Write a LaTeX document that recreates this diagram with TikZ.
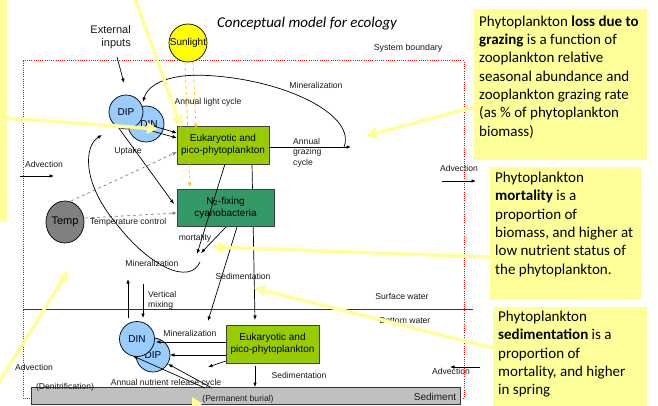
\documentclass[tikz,border=0pt]{standalone}
\usepackage{fontspec}
\setmainfont{Liberation Sans}
\newfontfamily\calib{Carlito}
\usetikzlibrary{arrows.meta,shapes.geometric}
\definecolor{callout}{HTML}{FFFF99}
\definecolor{cirblue}{HTML}{99CCFF}
\definecolor{eukgreen}{HTML}{99CC00}
\definecolor{cyangreen}{HTML}{339966}
\definecolor{sunyel}{HTML}{FFFF00}
\definecolor{sunline}{HTML}{FFC000}
\definecolor{tempgray}{HTML}{808080}
\definecolor{sedgray}{HTML}{C0C0C0}
\definecolor{txt}{HTML}{1A1A1A}
\tikzset{
  lbl/.style={font=\fontsize{8.6}{10.4}\selectfont, inner sep=0, text=txt},
  bigl/.style={font=\fontsize{10}{12}\selectfont, inner sep=0, text=txt},
  arr/.style={-{Latex[length=4.5pt,width=3.6pt]}, line width=0.7pt, draw=black},
  garr/.style={-{Latex[length=4.5pt,width=3.6pt]}, line width=0.7pt, draw=gray, dashed},
  oarr/.style={-{Latex[length=4.5pt,width=3.6pt]}, line width=0.7pt, draw=sunline, dashed},
  yarr/.style={-{Triangle[length=11pt,width=11pt]}, line width=3.5pt, draw=callout},
  procbox/.style={draw=black!75, line width=0.8pt, minimum width=92pt, minimum height=38pt, inner sep=0, align=center, font=\fontsize{10}{12}\selectfont},
  nut/.style={circle, draw=black, line width=0.7pt, fill=cirblue, minimum size=35pt, inner sep=0, font=\fontsize{10}{12}\selectfont},
  callbox/.style={fill=callout, inner sep=0, anchor=north west},
  calltext/.style={font=\calib\fontsize{15}{18.3}\selectfont, align=left, inner sep=0, anchor=north west, text=black},
}
\begin{document}
\begin{tikzpicture}[x=1pt,y=-1pt]
\useasboundingbox (0,0) rectangle (658,406);
\clip (0,0) rectangle (658,406);
\fill[white] (0,0) rectangle (658,406);

% system boundary
\draw[red, line width=1pt, dash pattern=on 1pt off 1.2pt] (23,61) rectangle (464,398);
\node[lbl, font=\fontsize{8.8}{10.4}\selectfont] (sysb) at (408,48) {System boundary};

% title
\node[inner sep=0, font=\calib\itshape\fontsize{15}{18}\selectfont] (title) at (307,24) {Conceptual model for ecology};

% external inputs
\node[inner sep=0, align=right, anchor=east, font=\fontsize{11}{13}\selectfont, text=txt] (ext) at (131,37) {External\\inputs};
\coordinate (extS) at (117,57);
\coordinate (extE) at (124,83);
\draw[arr] (extS) -- (extE);

% sediment box
\node[draw=black!80, line width=0.8pt, fill=sedgray, minimum width=429pt, minimum height=17pt, inner sep=0, anchor=north west] (sed) at (31,387) {};
\node[bigl] (sedl) at (435,397) {Sediment};
\node[lbl] (denit) at (65,387) {(Denitrification)};
\node[lbl] (burial) at (238,399) {(Permanent burial)};

% surface line
\coordinate (surfL) at (23,309);
\coordinate (surfR) at (473,309);
\draw[line width=0.8pt, black!80] (surfL) -- (surfR);
\node[lbl] (surfw) at (402,296) {Surface water};
\node[lbl] (botw) at (405,321) {Bottom water};

% sunlight
\node[circle, draw=black, line width=0.7pt, fill=sunyel, minimum size=38pt, inner sep=0, font=\fontsize{10}{12}\selectfont] (sun) at (188,43) {Sunlight};

% top boxes
\coordinate (sedA) at (252,164);
\coordinate (sedAe) at (255,320);
\draw[arr] (sedA) -- (sedAe);

\node[procbox, fill=eukgreen] (euk) at (223,145) {Eukaryotic and\\pico-phytoplankton};
\node[procbox, fill=cyangreen, minimum width=97pt, minimum height=37pt] (cyano) at (225.5,207.5) {N\textsubscript{2}-fixing\\cyanobacteria};

% sunlight dashed arrows
\coordinate (sun1) at (185,62);
\coordinate (sun1e) at (190,187);
\coordinate (sun2) at (193,62);
\coordinate (sun2e) at (196,129);
\draw[oarr] (sun1) -- (sun1e);
\draw[oarr] (sun2) -- (sun2e);
\node[lbl] (alc) at (208,102) {Annual light cycle};

% nutrient circles (top)
\node[nut, minimum size=36pt] (din) at (146,124) {\hspace{6pt}DIN};
\node[nut, minimum size=34pt] (dip) at (126,112) {DIP};

\coordinate (din1) at (153,126);
\coordinate (din2) at (152,131);
\coordinate (euk1) at (177,133);
\coordinate (euk2) at (177,138);
\draw[arr] (din1) -- (euk1);
\draw[arr] (din2) -- (euk2);

\node[lbl] (upt) at (128,151) {Uptake};
\coordinate (uptS) at (118,127);
\coordinate (uptE) at (174,204);
\draw[arr] (uptS) -- (uptE);

% grazing
\coordinate (graz) at (351,147);
\draw[arr] (euk.east |- graz) -- (graz);
\node[lbl, align=left, anchor=north west, font=\fontsize{8.6}{10.5}\selectfont] (gc) at (293,138) {Annual\\grazing\\cycle};

% big mineralization curve
\coordinate (minS) at (344,147);
\coordinate (dipT) at (143,102);
\draw[arr] (minS) .. controls (356,116) and (290,82) .. (215,76) .. controls (170,72) and (148,84) .. (dipT);
\node[lbl] (min1) at (316,85) {Mineralization};

% advection left
\node[lbl] (adv1) at (44,164) {Advection};
\coordinate (adv1s) at (20,176);
\coordinate (adv1e) at (54,176);
\draw[arr] (adv1s) -- (adv1e);

% temp
\node[ellipse, draw=black, line width=0.7pt, fill=tempgray, minimum width=36pt, minimum height=42pt, inner sep=0, font=\fontsize{11}{13}\selectfont] (temp) at (65,222) {Temp};
\coordinate (t1) at (71,201);
\coordinate (t1e) at (177,152);
\coordinate (t2) at (85,218);
\coordinate (t2e) at (177,213);
\draw[garr] (t1) -- (t1e);
\draw[garr] (t2) -- (t2e);
\node[lbl] (tc) at (128,222) {Temperature control};

% mortality
\coordinate (m1) at (225,164);
\coordinate (m1e) at (197,254);
\coordinate (m2) at (226,227);
\coordinate (m2e) at (201,253);
\draw[arr] (m1) -- (m1e);
\draw[arr] (m2) -- (m2e);
\node[lbl] (mort) at (195,238) {mortality};

% mineralization loop
\coordinate (loopS) at (200,262);
\coordinate (loopE) at (102,135);
\draw[arr] (loopS) .. controls (190,285) and (150,268) .. (115,222) .. controls (82,182) and (84,146) .. (loopE);
\node[lbl] (min2) at (152,263) {Mineralization};

% sedimentation from cyano
\coordinate (sedB) at (237,227);
\coordinate (sedBe) at (208,321);
\draw[arr] (sedB) -- (sedBe);
\node[lbl] (sedt) at (243,276) {Sedimentation};

% advection right
\node[lbl] (adv2) at (459,168) {Advection};
\coordinate (adv2s) at (442,181);
\coordinate (adv2e) at (476,181);
\draw[arr] (adv2s) -- (adv2e);

% vertical mixing
\coordinate (vm1) at (128,318);
\coordinate (vm1e) at (128,279);
\coordinate (vm2) at (143,284);
\coordinate (vm2e) at (143,318);
\draw[arr] (vm1) -- (vm1e);
\draw[arr] (vm2) -- (vm2e);
\node[lbl, align=left, anchor=north west, font=\fontsize{8.6}{10}\selectfont] (vmix) at (148,291) {Vertical\\mixing};

% bottom nutrients
\node[nut, minimum size=34pt] (dipb) at (153,355) {\raisebox{-3pt}{DIP}};
\node[nut, minimum size=35pt] (dinb) at (137,339) {DIN};

\node[procbox, fill=eukgreen, minimum width=93pt] (eukb) at (272.5,344) {Eukaryotic and\\pico-phytoplankton};
\coordinate (bm1) at (156,342);
\coordinate (bm2) at (170,355);
\draw[arr] (eukb.west |- bm1) -- (bm1);
\draw[arr] (eukb.west |- bm2) -- (bm2);
\node[lbl] (min3) at (190,333) {Mineralization};
\coordinate (bx) at (226,361);
\coordinate (bxe) at (208,367);
\draw[arr] (bx) -- (bxe);
\coordinate (bsed) at (255,366);
\coordinate (bsede) at (255,387);
\draw[arr] (bsed) -- (bsede);
\node[lbl] (sedt2) at (299,375) {Sedimentation};

\coordinate (rel1) at (205,388);
\coordinate (rel1e) at (133,356);
\coordinate (rel2) at (212,388);
\coordinate (rel2e) at (168,364);
\draw[arr] (rel1) -- (rel1e);
\draw[arr] (rel2) -- (rel2e);
\node[lbl] (anr) at (166,383) {Annual nutrient release cycle};

% advection bottom
\node[lbl] (adv3) at (34,367) {Advection};
\node[lbl] (adv4) at (451,371) {Advection};
\coordinate (adv4s) at (480,367);
\coordinate (adv4e) at (450,367);
\draw[arr] (adv4s) -- (adv4e);

% callout boxes
\fill[callout] (-1,-1) rectangle (7,222);
\node[callbox, minimum width=173pt, minimum height=151pt] (cgraz) at (474,9) {};
\node[calltext] (tgraz) at (479,15.5) {Phytoplankton \textbf{loss due to}\\\textbf{grazing} is a function of\\zooplankton relative\\seasonal abundance and\\zooplankton grazing rate\\(as \% of phytoplankton\\biomass)};
\node[callbox, minimum width=151pt, minimum height=133pt] (cmort) at (490,167) {};
\node[calltext] (tmort) at (495,172) {Phytoplankton\\\textbf{mortality} is a\\proportion of\\biomass, and higher at\\low nutrient status of\\the phytoplankton.};
\node[callbox, minimum width=154pt, minimum height=100pt] (csed) at (493,307) {};
\node[calltext] (tsed) at (498,311) {Phytoplankton\\\textbf{sedimentation} is a\\proportion of\\mortality, and higher\\in spring};

% yellow pointer arrows
\coordinate (yl1) at (6,118);
\coordinate (yl1e) at (158,129);
\draw[yarr] (yl1) -- (yl1e);
\coordinate (yt) at (135,-2);
\coordinate (yte) at (181,127);
\draw[yarr] (yt) -- (yte);
\draw[yarr] (cgraz.west |- 0,107) -- (366,136);
\draw[yarr] (cmort.west |- 0,257) -- (212,247);
\draw[yarr] (csed.west |- 0,348) -- (254,288);
\coordinate (ybl) at (-2,384);
\coordinate (ykle) at (68,271);
\draw[yarr] (ybl) -- (ykle);
\coordinate (ybot) at (205,420);
\coordinate (ybote) at (192,397);
\draw[yarr] (ybot) -- (ybote);
\end{tikzpicture}
\end{document}
